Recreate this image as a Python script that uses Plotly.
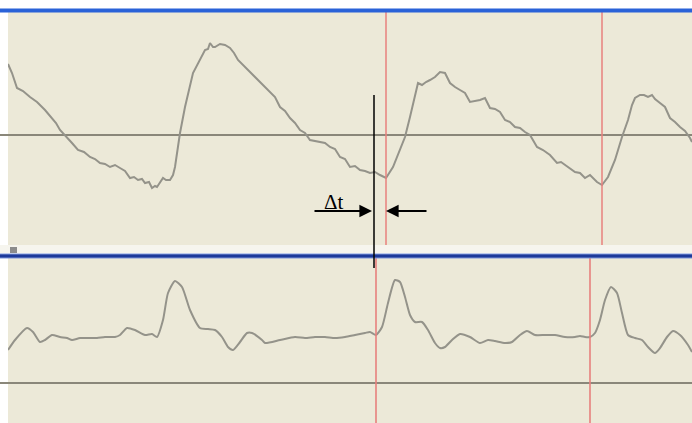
import plotly.graph_objects as go

# ---- data (pixel-time units, amplitude relative to each panel baseline) ----
pulse_t = [8, 12, 17, 23, 30, 37, 45, 52, 56, 60, 64, 67, 72, 78, 84, 90, 95, 100, 105, 110, 115, 120,
           125, 130, 134, 138, 142, 145, 149, 152, 155, 157, 160, 163, 166, 170, 173, 175,
           180, 185, 193, 200, 205, 208, 210, 213, 215, 220, 225, 230, 234, 238, 244, 250, 255, 260,
           265, 270, 275, 280, 285, 290, 295, 300, 305, 310, 315, 320, 325,
           330, 335, 340, 345, 350, 355, 360, 365, 370, 375, 380, 386, 393, 400, 405, 410, 415, 418,
           422, 426, 430, 435, 440, 445, 450, 455, 460, 465, 470,
           475, 480, 485, 490, 495, 500, 505, 510, 515, 520, 525, 530, 537, 543, 550, 557, 561, 565,
           570, 575, 580, 585, 590, 594, 597, 602, 608,
           615, 622, 628, 632, 635, 640, 644, 648, 652, 655, 660, 665, 670, 675, 680, 685, 690, 692]
pulse_v = [71, 62, 47, 44, 38, 33, 25, 17, 12, 5, 1, -3, -8, -15, -17, -22, -24, -28, -29, -32, -30, -33,
           -36, -43, -42, -45, -44, -48, -47, -53, -51, -52, -48, -43, -45, -45, -40, -32,
           2, 28, 62, 75, 85, 86, 92, 88, 88, 91, 90, 87, 82, 75, 69, 63, 58, 52,
           48, 42, 38, 28, 24, 17, 12, 5, 2, -5, -6, -7, -8,
           -12, -14, -22, -24, -32, -31, -35, -36, -38, -37, -40, -43, -32, -15, -2, 18, 38, 52,
           50, 53, 55, 58, 63, 62, 52, 48, 45, 42, 33,
           34, 35, 37, 27, 26, 23, 15, 13, 8, 7, 3, 0, -12, -15, -20, -28, -27, -30,
           -33, -37, -38, -43, -40, -44, -47, -50, -42,
           -25, -2, 15, 30, 37, 40, 40, 38, 40, 36, 32, 28, 17, 13, 8, 4, -3, -7]

ecg_t = [8, 15, 27, 33, 40, 45, 52, 60, 67, 72, 80, 90, 97, 105, 115, 120, 127, 135, 145, 152, 157,
         163, 168, 175, 182, 190, 200, 208, 215, 222, 228, 233, 240, 247, 252, 262, 265, 280, 295,
         305, 315, 325, 335, 345, 355, 365, 370, 376, 382, 388, 395, 400, 405, 410, 415, 422, 428,
         435, 440, 445, 452, 460, 470, 480, 488, 495, 505, 512, 520, 527, 535, 545, 555, 565, 575,
         580, 585, 590, 595, 600, 605, 611, 617, 622, 628, 635, 642, 648, 655, 660, 667, 673, 680,
         688, 692]
ecg_v = [33, 43, 55, 51, 41, 43, 48, 46, 45, 43, 45, 45, 45, 46, 46, 48, 55, 53, 48, 49, 46,
         63, 90, 102, 96, 73, 55, 54, 53, 46, 36, 33, 41, 50, 50, 43, 40, 43, 46,
         45, 46, 46, 45, 46, 48, 50, 51, 48, 56, 80, 103, 101, 86, 68, 61, 61, 53,
         40, 35, 36, 43, 49, 46, 40, 43, 42, 40, 41, 48, 52, 48, 48, 48, 46, 46,
         47, 46, 46, 50, 63, 83, 96, 90, 70, 48, 45, 43, 36, 30, 35, 46, 52, 48,
         38, 31]

cursor_top = [386, 602]
cursor_bot = [376, 590]
marker_t = 374
dt_label = "Δt"

W, H = 692, 423
BEIGE = "#ECE9D8"
SIGNAL = "#94938a"


def py(pix):  # pixel row -> paper fraction
    return 1 - pix / H


fig = go.Figure()
fig.add_trace(go.Scatter(x=pulse_t, y=pulse_v, mode="lines", xaxis="x", yaxis="y",
                         line=dict(color=SIGNAL, width=2), hoverinfo="skip"))
fig.add_trace(go.Scatter(x=ecg_t, y=ecg_v, mode="lines", xaxis="x", yaxis="y2",
                         line=dict(color=SIGNAL, width=2, shape="spline", smoothing=0.6),
                         hoverinfo="skip"))

shapes = []
# baselines
shapes.append(dict(type="line", xref="paper", yref="y", x0=0, x1=1, y0=0, y1=0,
                   line=dict(color="#8a877a", width=2), layer="below"))
shapes.append(dict(type="line", xref="paper", yref="y2", x0=0, x1=1, y0=0, y1=0,
                   line=dict(color="#8a877a", width=2), layer="below"))
# red cursors
for cx in cursor_top:
    shapes.append(dict(type="line", xref="x", yref="paper", x0=cx, x1=cx, y0=py(245), y1=py(12),
                       line=dict(color="#e8807e", width=1.5)))
for cx in cursor_bot:
    shapes.append(dict(type="line", xref="x", yref="paper", x0=cx, x1=cx, y0=0, y1=py(258),
                       line=dict(color="#e8807e", width=1.6)))
# separator stripe and blue bars
shapes.append(dict(type="rect", xref="paper", yref="paper", x0=0, x1=1, y0=py(253), y1=py(245),
                   fillcolor="#F6F5EE", line=dict(width=0)))
shapes.append(dict(type="rect", xref="paper", yref="paper", x0=10 / W, x1=17 / W, y0=py(253), y1=py(247),
                   fillcolor="#8c8c8c", line=dict(width=0)))
shapes.append(dict(type="rect", xref="paper", yref="paper", x0=0, x1=1, y0=py(258.5), y1=py(253.5),
                   fillcolor="#7d95d8", line=dict(width=0)))
shapes.append(dict(type="rect", xref="paper", yref="paper", x0=0, x1=1, y0=py(257.5), y1=py(254.5),
                   fillcolor="#1d3a9a", line=dict(width=0)))
shapes.append(dict(type="rect", xref="paper", yref="paper", x0=0, x1=1, y0=py(12.5), y1=py(8.5),
                   fillcolor="#2a62d8", line=dict(width=0)))
# black marker line
shapes.append(dict(type="line", xref="x", yref="paper", x0=marker_t, x1=marker_t, y0=py(268), y1=py(95),
                   line=dict(color="black", width=1.5)))

annotations = [
    dict(x=372, y=-76, ax=313, ay=-76, xref="x", yref="y", axref="x", ayref="y",
         showarrow=True, arrowhead=2, arrowsize=1.4, arrowwidth=1.8, arrowcolor="black", text=""),
    dict(x=386, y=-76, ax=428, ay=-76, xref="x", yref="y", axref="x", ayref="y",
         showarrow=True, arrowhead=2, arrowsize=1.4, arrowwidth=1.8, arrowcolor="black", text=""),
    dict(x=334, y=-67, xref="x", yref="y", text=dt_label, showarrow=False,
         font=dict(family="Liberation Serif", size=21, color="black")),
]

fig.update_layout(
    width=W, height=H, margin=dict(l=0, r=0, t=0, b=0),
    paper_bgcolor="white", plot_bgcolor=BEIGE, showlegend=False,
    xaxis=dict(range=[8, 692], domain=[8 / W, 1], visible=False, fixedrange=True),
    yaxis=dict(range=[-110, 123], domain=[py(245), py(12)], visible=False),
    yaxis2=dict(range=[-40, 125], domain=[0, py(258)], visible=False),
    shapes=shapes, annotations=annotations,
)
fig.write_html("out.html", config={"displayModeBar": False},
               post_script="document.body.style.margin='0';document.body.style.padding='0';"
                           "document.documentElement.style.overflow='hidden';")
